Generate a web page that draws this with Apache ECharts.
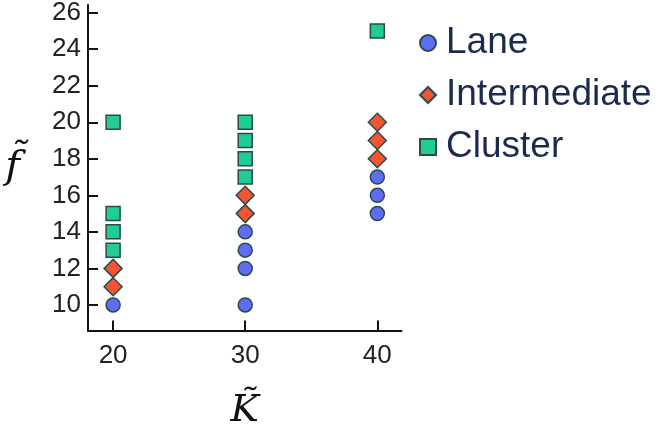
<!DOCTYPE html>
<html>
<head>
<meta charset="utf-8">
<script src="https://cdn.jsdelivr.net/npm/echarts@6/dist/echarts.min.js"></script>
<style>html,body{margin:0;padding:0;background:#fff;}#c{width:659px;height:427px;}</style>
</head>
<body>
<div id="c"></div>
<script>
var xTicks = [20, 30, 40];
var yTicks = [10, 12, 14, 16, 18, 20, 22, 24, 26];
var laneData = [[20,10],[30,10],[30,12],[30,13],[30,14],[40,15],[40,16],[40,17]];
var intermediateData = [[20,11],[20,12],[30,15],[30,16],[40,18],[40,19],[40,20]];
var clusterData = [[20,13],[20,14],[20,15],[20,20],[30,17],[30,18],[30,19],[30,20],[40,25]];

var border = '#2c4a4c';
var chart = echarts.init(document.getElementById('c'));
chart.setOption({
  animation: false,
  backgroundColor: '#fff',
  grid: {left: 88, top: 5, width: 313.5, height: 325.5, containLabel: false, outerBoundsMode: 'none'},
  xAxis: {
    type: 'value', min: 18.1, max: 41.83,
    name: 'K\u0303', nameLocation: 'middle', nameGap: 62,
    nameTextStyle: {fontFamily: 'DejaVu Serif', fontStyle: 'italic', fontSize: 38, color: '#111'},
    axisLine: {show: true, onZero: false, lineStyle: {color: '#111', width: 2}},
    axisTick: {show: true, inside: true, length: 10, lineStyle: {color: '#111', width: 2}, customValues: xTicks},
    axisLabel: {customValues: xTicks, fontFamily: 'Liberation Sans', fontSize: 26, color: '#222', margin: 12},
    splitLine: {show: false}
  },
  yAxis: {
    type: 'value', min: 8.6, max: 26.42,
    name: 'f\u0303', nameLocation: 'middle', nameGap: 68, nameRotate: 0,
    nameTextStyle: {fontFamily: 'DejaVu Serif', fontStyle: 'italic', fontSize: 40, color: '#111'},
    axisLine: {show: true, onZero: false, lineStyle: {color: '#111', width: 2}},
    axisTick: {show: true, inside: true, length: 10, lineStyle: {color: '#111', width: 2}, customValues: yTicks},
    axisLabel: {customValues: yTicks, fontFamily: 'Liberation Sans', fontSize: 26, color: '#222', margin: 7},
    splitLine: {show: false}
  },
  legend: {
    orient: 'vertical', left: 414, top: 18,
    itemWidth: 16, itemHeight: 16, itemGap: 12,
    textStyle: {fontFamily: 'Liberation Sans', fontSize: 37, color: '#1b2a4e', lineHeight: 40, padding: [0, 0, 0, 5]},
    data: [
      {name: 'Lane', icon: 'circle'},
      {name: 'Intermediate', icon: 'diamond'},
      {name: 'Cluster', icon: 'rect'}
    ]
  },
  series: [
    {name: 'Lane', type: 'scatter', symbol: 'circle', symbolSize: 14, data: laneData,
     itemStyle: {color: '#5d6ef2', borderColor: border, borderWidth: 1.5, opacity: 1}},
    {name: 'Intermediate', type: 'scatter', symbol: 'diamond', symbolSize: 18, data: intermediateData,
     itemStyle: {color: '#f2552f', borderColor: border, borderWidth: 1.5, opacity: 1}},
    {name: 'Cluster', type: 'scatter', symbol: 'rect', symbolSize: 14, data: clusterData,
     itemStyle: {color: '#1fcc91', borderColor: border, borderWidth: 1.5, opacity: 1}}
  ]
});
</script>
</body>
</html>
